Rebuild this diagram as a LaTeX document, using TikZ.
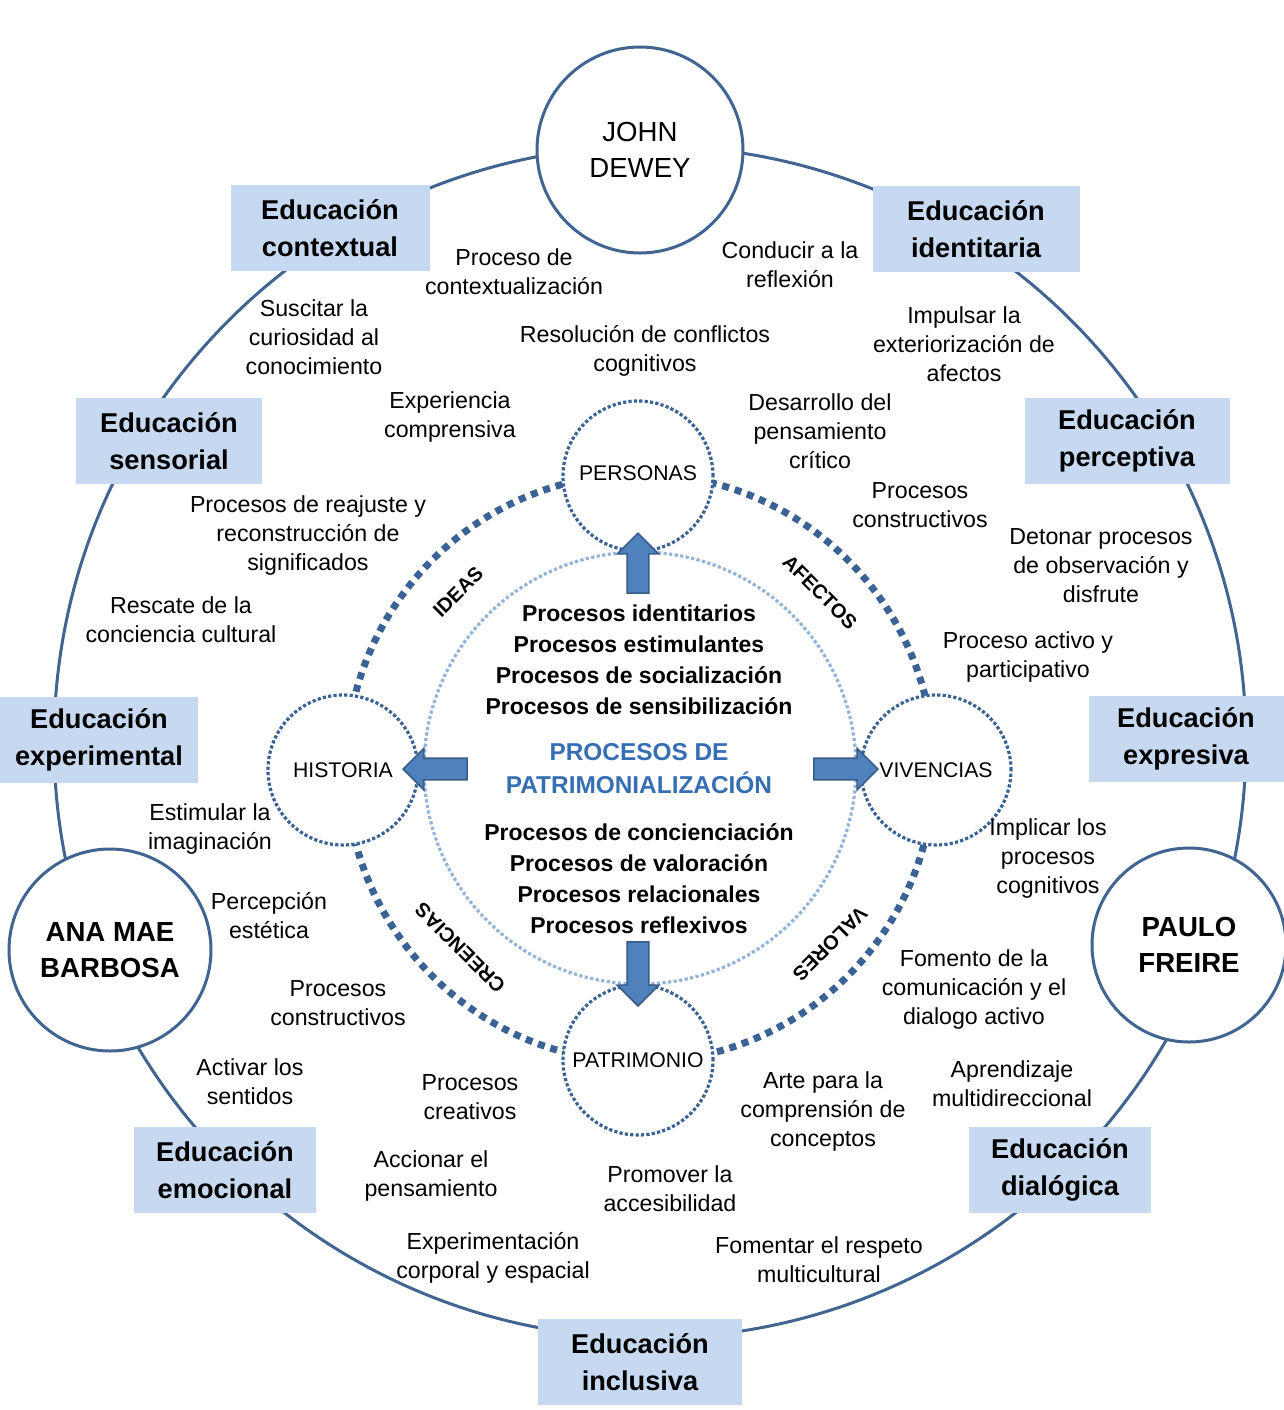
\documentclass[tikz,border=0pt]{standalone}
\usepackage{fontspec}
\setmainfont{Liberation Sans}
\usetikzlibrary{shapes.arrows}
\definecolor{ringblue}{RGB}{65,100,145}
\definecolor{dotblue}{RGB}{59,98,148}
\definecolor{lightdot}{RGB}{149,179,215}
\definecolor{boxblue}{RGB}{198,217,241}
\definecolor{arrowfill}{RGB}{79,129,189}
\definecolor{arrowline}{RGB}{56,93,138}
\definecolor{titleblue}{RGB}{54,110,180}

\begin{document}
\begin{tikzpicture}[
  x=0.5pt, y=-0.5pt,
  pplbl/.style={align=center, inner sep=0pt, font=\fontsize{11.6}{14.5}\selectfont},
  ppbox/.style={fill=boxblue, align=center, inner sep=0pt, minimum height=43pt,
                font=\bfseries\fontsize{13.6}{18.5}\selectfont},
  ppauthor/.style={circle, draw=ringblue, line width=1.5pt, fill=white, align=center,
                   inner sep=0pt, font=\bfseries\fontsize{13.8}{18}\selectfont},
  pphub/.style={circle, draw=dotblue, line width=1.6pt, dash pattern=on 1.6pt off 1.1pt,
                fill=white, minimum size=75pt, inner sep=0pt, font=\fontsize{10.6}{12}\selectfont},
  ppcore/.style={align=center, inner sep=0pt, font=\bfseries\fontsize{11.5}{15.5}\selectfont},
  ppaxis/.style={inner sep=0pt, font=\bfseries\fontsize{10}{12}\selectfont},
  pparr/.style={single arrow, draw=arrowline, line width=0.8pt, fill=arrowfill,
                inner xsep=0pt, inner ysep=5pt, single arrow head extend=5pt,
                minimum height=32pt}
]
\useasboundingbox (0,0) rectangle (1284,1410);

% ---------------------------------------------- rings
\draw[ringblue, line width=1.5pt] (650,742) circle[radius=596];
\draw[lightdot, line width=1.6pt, dash pattern=on 1.6pt off 1.2pt] (640,768) circle[radius=216];
\draw[dotblue, line width=3.5pt, dash pattern=on 3.5pt off 3pt] (640,768) circle[radius=294];

% ---------------------------------------------- the four hubs
\node[pphub] (personas) at (638,476) {\raisebox{3pt}{PERSONAS}};
\node[pphub] (historia) at (343,770) {HISTORIA};
\node[pphub] (vivencias) at (936,770) {VIVENCIAS};
\node[pphub] (patrimonio) at (638,1060) {\raisebox{-3pt}{PATRIMONIO}};

\node[pparr, rotate=90, anchor=tip, minimum height=30pt] (arrup) at (638,532) {};
\node[pparr, rotate=180, anchor=tip] (arrleft) at (402,769) {};
\node[pparr, anchor=tip] (arrright) at (879,769) {};
\node[pparr, rotate=-90, anchor=tip] (arrdown) at (638,1007) {};

% ---------------------------------------------- the centre
\node[ppcore] (topproc) at (639,660) {Procesos identitarios\\ Procesos estimulantes\\
  Procesos de socialización\\ Procesos de sensibilización};
\node[ppcore, text=titleblue, font=\bfseries\fontsize{12.2}{16.5}\selectfont] (title) at (639,769)
  {PROCESOS DE\\ PATRIMONIALIZACIÓN};
\node[ppcore] (botproc) at (639,879) {Procesos de concienciación\\ Procesos de valoración\\
  Procesos relacionales\\ Procesos reflexivos};

\node[ppaxis, rotate=45] (ideas) at (458,592) {IDEAS};
\node[ppaxis, rotate=-45] (afectos) at (820,592) {AFECTOS};
\node[ppaxis, rotate=135] (creencias) at (460,948) {CREENCIAS};
\node[ppaxis, rotate=-135] (valores) at (830,944) {VALORES};

% ---------------------------------------------- authors
\node[ppauthor, minimum size=103pt, font=\fontsize{13.8}{18}\selectfont] (dewey) at (640,150) {JOHN\\ DEWEY};
\node[ppauthor, minimum size=101pt] (barbosa) at (110,950) {ANA MAE\\ BARBOSA};
\node[ppauthor, minimum size=97pt] (freire) at (1189,945) {PAULO\\ FREIRE};

% ---------------------------------------------- the nine educations
\node[ppbox, minimum width=99.5pt] (contextual) at (330,228) {Educación\\ contextual};
\node[ppbox, minimum width=103.5pt] (identitaria) at (976,229) {Educación\\ identitaria};
\node[ppbox, minimum width=93pt] (sensorial) at (169,441) {Educación\\ sensorial};
\node[ppbox, minimum width=102.5pt] (perceptiva) at (1127,441) {Educación\\ perceptiva};
\node[ppbox, minimum width=99pt] (experimental) at (99,740) {Educación\\ experimental};
\node[ppbox, minimum width=97.5pt] (expresiva) at (1186,739) {Educación\\ expresiva};
\node[ppbox, minimum width=91pt] (emocional) at (225,1170) {Educación\\ emocional};
\node[ppbox, minimum width=91pt] (dialogica) at (1060,1170) {Educación\\ dialógica};
\node[ppbox, minimum width=102pt] (inclusiva) at (640,1362) {Educación\\ inclusiva};

% ---------------------------------------------- actions round the ring
\node[pplbl] (contexto) at (514,272) {Proceso de\\ contextualización};
\node[pplbl] (conducir) at (790,265) {Conducir a la\\ reflexión};
\node[pplbl] (conflictos) at (645,351) {Resolución de conflictos\\ cognitivos};
\node[pplbl] (suscitar) at (314,337) {Suscitar la\\ curiosidad al\\ conocimiento};
\node[pplbl] (impulsar) at (964,344) {Impulsar la\\ exteriorización de\\ afectos};
\node[pplbl] (experiencia) at (450,417) {Experiencia\\ comprensiva};
\node[pplbl] (desarrollo) at (820,431) {Desarrollo del\\ pensamiento\\ crítico};
\node[pplbl] (reajuste) at (308,535) {Procesos de reajuste y\\ reconstrucción de\\ significados};
\node[pplbl] (constr1) at (920,505) {Procesos\\ constructivos};
\node[pplbl] (detonar) at (1101,566) {Detonar procesos\\ de observación y\\ disfrute};
\node[pplbl] (rescate) at (181,620) {Rescate de la\\ conciencia cultural};
\node[pplbl] (activo) at (1028,657) {Proceso activo y\\ participativo};
\node[pplbl] (estimular) at (210,829) {Estimular la\\ imaginación};
\node[pplbl] (implicar) at (1048,858) {Implicar los\\ procesos\\ cognitivos};
\node[pplbl] (percepcion) at (269,916) {Percepción\\ estética};
\node[pplbl] (fomento) at (974,989) {Fomento de la\\ comunicación y el\\ dialogo activo};
\node[pplbl] (constr2) at (338,1003) {Procesos\\ constructivos};
\node[pplbl] (activar) at (250,1082) {Activar los\\ sentidos};
\node[pplbl] (creativos) at (470,1097) {Procesos\\ creativos};
\node[pplbl] (aprendizaje) at (1012,1084) {Aprendizaje\\ multidireccional};
\node[pplbl] (arte) at (823,1111) {Arte para la\\ comprensión de\\ conceptos};
\node[pplbl] (accionar) at (431,1176) {Accionar el\\ pensamiento};
\node[pplbl] (promover) at (670,1189) {Promover la\\ accesibilidad};
\node[pplbl] (corporal) at (493,1258) {Experimentación\\ corporal y espacial};
\node[pplbl] (respeto) at (819,1260) {Fomentar el respeto\\ multicultural};

\end{tikzpicture}
\end{document}
